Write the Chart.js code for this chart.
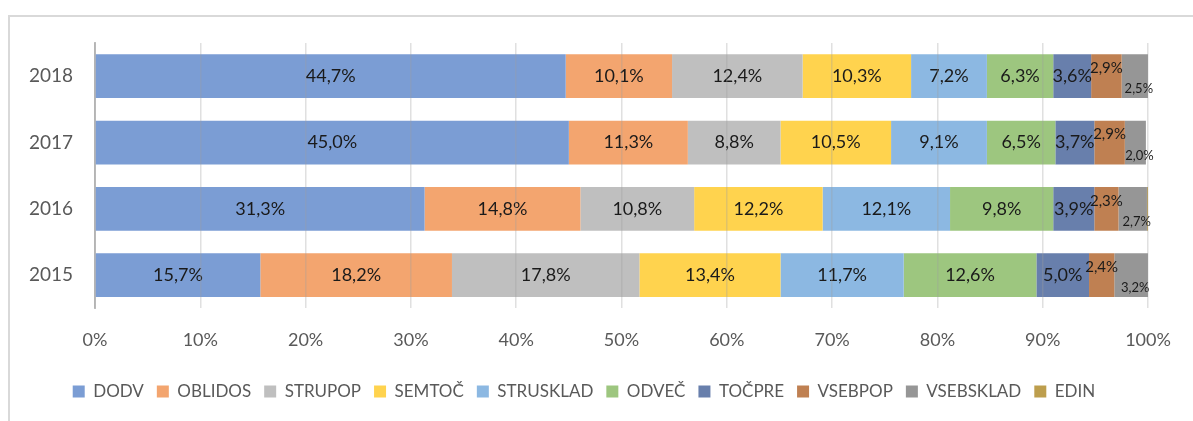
<!DOCTYPE html>
<html>
<head>
<meta charset="utf-8">
<script src="https://cdn.jsdelivr.net/npm/chart.js@4"></script>
<style>
  html, body { margin: 0; padding: 0; background: #fff; }
  #wrap { position: relative; width: 1193px; height: 421px; }
  #frame { position: absolute; left: 8px; top: 15px; right: -10px; bottom: -10px;
           border-left: 2px solid #d9d9d9; border-top: 2px solid #d9d9d9; }
  canvas { position: absolute; left: 0; top: 0; }
</style>
</head>
<body>
<div id="wrap">
  <div id="frame"></div>
  <canvas id="chart" width="1193" height="421"></canvas>
</div>
<script>
// categories (top to bottom)
const years = ['2018', '2017', '2016', '2015'];

// series values in % per year
const dodv      = [44.7, 45.0, 31.3, 15.7];
const oblidos   = [10.1, 11.3, 14.8, 18.2];
const strupop   = [12.4,  8.8, 10.8, 17.8];
const semtoc    = [10.3, 10.5, 12.2, 13.4];
const strusklad = [ 7.2,  9.1, 12.1, 11.7];
const odvec     = [ 6.3,  6.5,  9.8, 12.6];
const tocpre    = [ 3.6,  3.7,  3.9,  5.0];
const vsebpop   = [ 2.9,  2.9,  2.3,  2.4];
const vsebsklad = [ 2.5,  2.0,  2.7,  3.2];
const edin      = [ 0.0,  0.0,  0.1,  0.0];

const xTicks = [0, 10, 20, 30, 40, 50, 60, 70, 80, 90, 100];

const seriesNames = ['DODV', 'OBLIDOS', 'STRUPOP', 'SEMTOČ', 'STRUSKLAD', 'ODVEČ', 'TOČPRE', 'VSEBPOP', 'VSEBSKLAD', 'EDIN'];
const seriesData = [dodv, oblidos, strupop, semtoc, strusklad, odvec, tocpre, vsebpop, vsebsklad, edin];
const seriesColors = ['#7b9dd4', '#f3a56f', '#bfbfbf', '#ffd34e', '#8cb8e2', '#9dc67f', '#687fac', '#bf8052', '#969696', '#bd9e4d'];

const FONT = 'Lato, "Open Sans", sans-serif';

const datasets = seriesNames.map((name, i) => ({
    label: name,
    data: seriesData[i],
    backgroundColor: seriesColors[i],
    borderWidth: 0,
    categoryPercentage: 1.0,
    barPercentage: 0.66
}));

// data labels drawn in the centre of each segment
const labelPlugin = {
    id: 'segLabels',
    afterDatasetsDraw(chart) {
        const ctx = chart.ctx;
        ctx.save();
        ctx.textAlign = 'center';
        ctx.textBaseline = 'middle';
        ctx.fillStyle = '#1a1a1a';
        chart.data.datasets.forEach((ds, di) => {
            if (ds.label === 'EDIN') return;
            const meta = chart.getDatasetMeta(di);
            meta.data.forEach((bar, j) => {
                const v = ds.data[j];
                const txt = v.toFixed(1).replace('.', ',') + '%';
                const cx = (bar.x + bar.base) / 2;
                let cy = bar.y;
                let dx = 0;
                if (ds.label === 'VSEBPOP') {
                    ctx.font = '15px ' + FONT;
                    cy -= 8;
                } else if (ds.label === 'VSEBSKLAD') {
                    ctx.font = '13px ' + FONT;
                    cy += 13;
                    dx = 4;
                } else {
                    ctx.font = '18px ' + FONT;
                }
                ctx.fillText(txt, cx + dx, cy);
            });
        });
        ctx.restore();
    }
};

new Chart(document.getElementById('chart').getContext('2d'), {
    type: 'bar',
    data: { labels: years, datasets: datasets },
    options: {
        indexAxis: 'y',
        responsive: false,
        animation: false,
        layout: { padding: { left: 20, right: 45, top: 43, bottom: 11 } },
        scales: {
            x: {
                stacked: true,
                min: 0,
                max: 100,
                afterBuildTicks: (scale) => { scale.ticks = xTicks.map(v => ({ value: v })); },
                afterFit: (scale) => { scale.height -= 2; },
                ticks: {
                    color: '#595959',
                    font: { family: FONT, size: 18 },
                    padding: 21,
                    callback: (v) => v + '%'
                },
                grid: { color: 'rgba(160,160,160,0.32)', lineWidth: 1.5, z: 1, drawTicks: false },
                border: { display: false }
            },
            y: {
                stacked: true,
                ticks: { color: '#595959', font: { family: FONT, size: 19 }, padding: 14 },
                grid: { display: false },
                border: { display: true, color: '#bfbfbf', width: 2 },
                afterFit: (scale) => { scale.width = 75; }
            }
        },
        plugins: {
            legend: {
                position: 'bottom',
                labels: {
                    color: '#595959',
                    font: { family: FONT, size: 17 },
                    boxWidth: 12,
                    boxHeight: 12,
                    padding: 13
                }
            },
            tooltip: { enabled: false }
        }
    },
    plugins: [labelPlugin]
});
</script>
</body>
</html>
